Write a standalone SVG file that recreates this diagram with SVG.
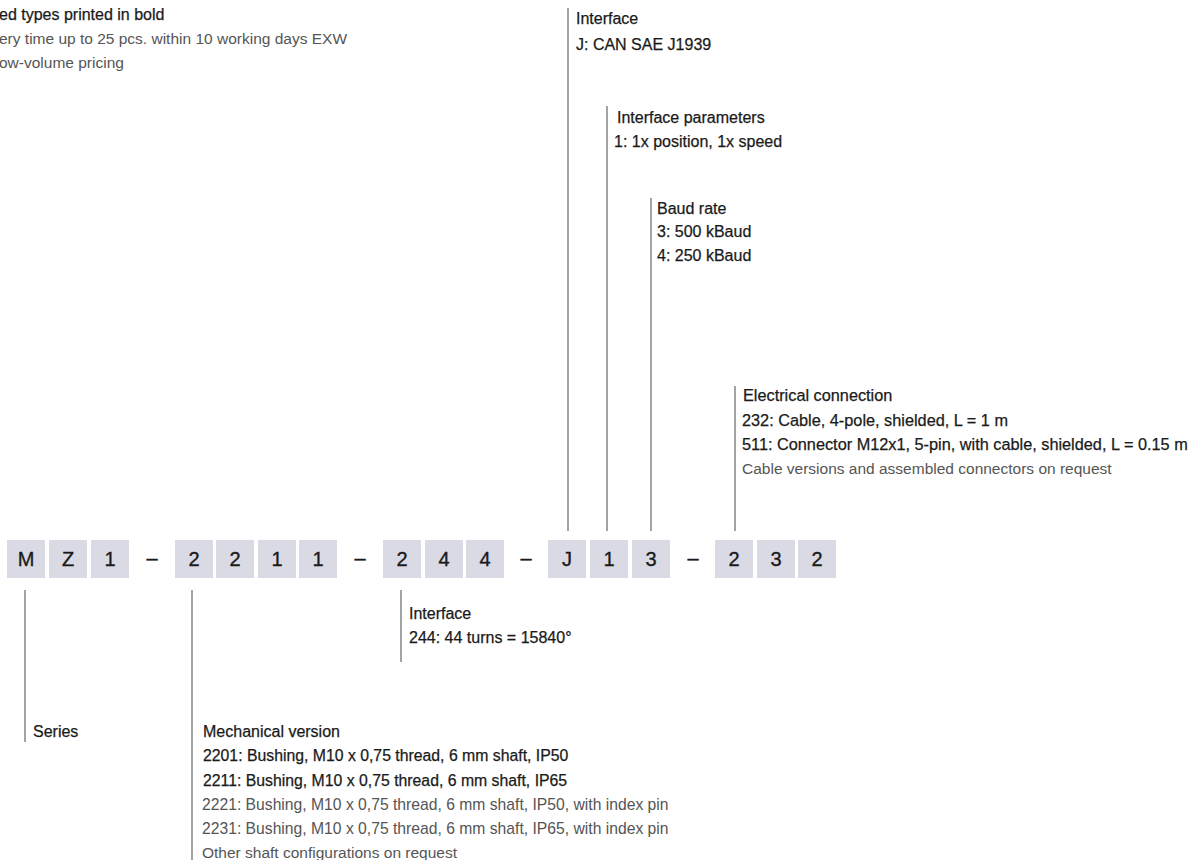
<svg xmlns="http://www.w3.org/2000/svg" width="1200" height="860" viewBox="0 0 1200 860">
<style>
text{font-family:"Liberation Sans",Arial,sans-serif}
.b{fill:#dadae5}
.c{font-size:20px;fill:#1a1a1a;text-anchor:middle;stroke:#1a1a1a;stroke-width:0.35}
.h{font-size:16px;fill:#1a1a1a;stroke:#1a1a1a;stroke-width:0.25}
.g{font-size:15.5px;fill:#555555}
.ln{stroke:#8c8c8c;stroke-width:1.6;fill:none}
</style>
<rect width="1200" height="860" fill="#ffffff"/>
<g id="legend">
<text class="h" x="-1" y="20">ed types printed in bold</text>
<text class="g" x="-1" y="44">ery time up to 25 pcs. within 10 working days EXW</text>
<text class="g" x="-1" y="68">ow-volume pricing</text>
</g>
<g id="code">
<rect class="b" x="7" y="540" width="38" height="38"/><text class="c" x="26" y="566">M</text>
<rect class="b" x="49" y="540" width="38" height="38"/><text class="c" x="68" y="566">Z</text>
<rect class="b" x="91" y="540" width="38" height="38"/><text class="c" x="110" y="566">1</text>
<text class="c" x="152" y="565">–</text>
<rect class="b" x="175" y="540" width="38" height="38"/><text class="c" x="194" y="566">2</text>
<rect class="b" x="216" y="540" width="38" height="38"/><text class="c" x="235" y="566">2</text>
<rect class="b" x="258" y="540" width="38" height="38"/><text class="c" x="277" y="566">1</text>
<rect class="b" x="299" y="540" width="38" height="38"/><text class="c" x="318" y="566">1</text>
<text class="c" x="360" y="565">–</text>
<rect class="b" x="383" y="540" width="38" height="38"/><text class="c" x="402" y="566">2</text>
<rect class="b" x="425" y="540" width="38" height="38"/><text class="c" x="444" y="566">4</text>
<rect class="b" x="466" y="540" width="38" height="38"/><text class="c" x="485" y="566">4</text>
<text class="c" x="526" y="565">–</text>
<rect class="b" x="548" y="540" width="38" height="38"/><text class="c" x="567" y="566">J</text>
<rect class="b" x="590" y="540" width="38" height="38"/><text class="c" x="609" y="566">1</text>
<rect class="b" x="632" y="540" width="38" height="38"/><text class="c" x="651" y="566">3</text>
<text class="c" x="693" y="565">–</text>
<rect class="b" x="715" y="540" width="38" height="38"/><text class="c" x="734" y="566">2</text>
<rect class="b" x="757" y="540" width="38" height="38"/><text class="c" x="776" y="566">3</text>
<rect class="b" x="798" y="540" width="38" height="38"/><text class="c" x="817" y="566">2</text>
</g>
<g id="connectors">
<line class="ln" x1="568" y1="8" x2="568" y2="531"/>
<line class="ln" x1="607" y1="106" x2="607" y2="531"/>
<line class="ln" x1="651" y1="198" x2="651" y2="531"/>
<line class="ln" x1="735" y1="386" x2="735" y2="531"/>
<line class="ln" x1="25" y1="590" x2="25" y2="742"/>
<line class="ln" x1="192" y1="590" x2="192" y2="860"/>
<line class="ln" x1="401" y1="590" x2="401" y2="662"/>
</g>
<g id="interface">
<text class="h" x="576" y="24">Interface</text>
<text class="h" x="576" y="50">J: CAN SAE J1939</text>
</g>
<g id="interface-parameters">
<text class="h" x="617" y="123">Interface parameters</text>
<text class="h" x="614" y="147">1: 1x position, 1x speed</text>
</g>
<g id="baud-rate">
<text class="h" x="657" y="214">Baud rate</text>
<text class="h" x="657" y="237">3: 500 kBaud</text>
<text class="h" x="657" y="261">4: 250 kBaud</text>
</g>
<g id="electrical-connection">
<text class="h" x="743" y="401" style="font-size:16.3px">Electrical connection</text>
<text class="h" x="742" y="426" style="font-size:16.3px">232: Cable, 4-pole, shielded, L = 1 m</text>
<text class="h" x="742" y="450" style="font-size:16.3px">511: Connector M12x1, 5-pin, with cable, shielded, L = 0.15 m</text>
<text class="g" x="742" y="474">Cable versions and assembled connectors on request</text>
</g>
<g id="interface-turns">
<text class="h" x="409" y="619">Interface</text>
<text class="h" x="409" y="643">244: 44 turns = 15840°</text>
</g>
<g id="series">
<text class="h" x="33" y="737">Series</text>
</g>
<g id="mechanical-version">
<text class="h" x="203" y="737">Mechanical version</text>
<text class="h" x="203" y="761" style="font-size:15.8px">2201: Bushing, M10 x 0,75 thread, 6 mm shaft, IP50</text>
<text class="h" x="203" y="786" style="font-size:15.8px">2211: Bushing, M10 x 0,75 thread, 6 mm shaft, IP65</text>
<text class="g" x="202" y="810" style="font-size:15.7px">2221: Bushing, M10 x 0,75 thread, 6 mm shaft, IP50, with index pin</text>
<text class="g" x="202" y="834" style="font-size:15.7px">2231: Bushing, M10 x 0,75 thread, 6 mm shaft, IP65, with index pin</text>
<text class="g" x="202" y="858">Other shaft configurations on request</text>
</g>
</svg>
